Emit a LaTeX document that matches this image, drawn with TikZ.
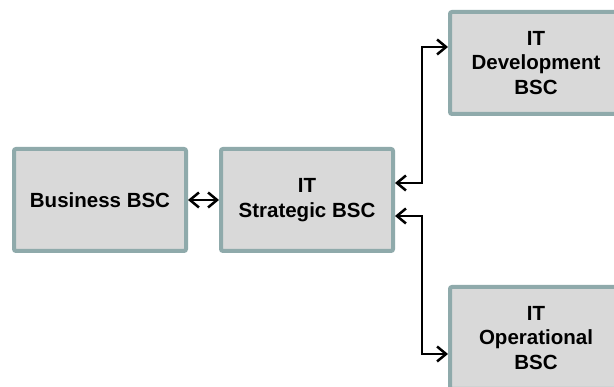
\documentclass[tikz,border=0pt]{standalone}
\usepackage{fontspec}
\setmainfont{Liberation Sans}
\usetikzlibrary{arrows.meta}
\definecolor{boxfill}{HTML}{D9D9D9}
\definecolor{boxedge}{HTML}{8FAAAB}
\begin{document}
\begin{tikzpicture}[x=1pt,y=1pt,
  bsc/.style={draw=boxedge, fill=boxfill, line width=4pt, rounded corners=2pt,
    minimum width=172pt, minimum height=102pt, align=center, inner sep=0pt,
    font=\fontsize{20.5}{24.5}\selectfont\bfseries},
  tip/.style={Straight Barb[length=9pt,width=15pt,line width=2.5pt]},
  link/.style={line width=2.5pt, black, {Straight Barb[length=9pt,width=15pt,line width=2.5pt]}-{Straight Barb[length=9pt,width=15pt,line width=2.5pt]}}]
\useasboundingbox (0,0) rectangle (614,387);
\clip (0,0) rectangle (614,387);
\fill[white] (0,0) rectangle (614,387);

\node[bsc] (bus)   at (100,187) {Business BSC};
\node[bsc] (strat) at (307,187) {IT\\Strategic BSC};
\node[bsc] (dev)   at (536,324) {IT\\Development\\BSC};
\node[bsc] (ops)   at (536,49)  {IT\\Operational\\BSC};

\draw[link] (bus) -- (strat);
\draw[link] ([yshift=17pt]strat.east) -- ++(27,0) |- ([yshift=16pt]dev.west);
\draw[link] ([yshift=-16pt]strat.east) -- ++(27,0) |- ([yshift=-16pt]ops.west);
\end{tikzpicture}
\end{document}
